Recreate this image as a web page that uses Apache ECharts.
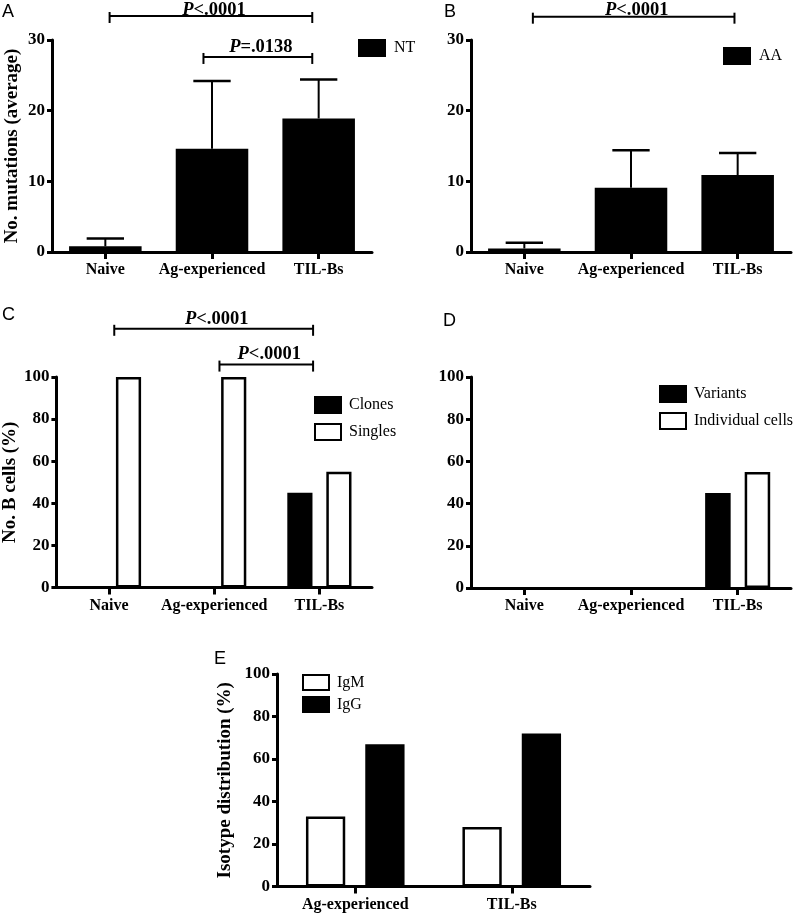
<!DOCTYPE html>
<html><head><meta charset="utf-8">
<script src="https://cdn.jsdelivr.net/npm/echarts@6/dist/echarts.min.js"></script>
<style>html,body{margin:0;padding:0;background:#fff}#c{width:797px;height:914px}</style>
</head><body><div id="c"></div>
<script>
// ---- data ----
const catsThree = ['Naive', 'Ag-experienced', 'TIL-Bs'];
const catsTwo = ['Ag-experienced', 'TIL-Bs'];
const ntMean = [0.8, 14.6, 18.9];
const ntUpper = [1.9, 24.2, 24.4];
const aaMean = [0.5, 9.1, 10.9];
const aaUpper = [1.3, 14.4, 14.0];
const clones = [0, 0, 45];
const singles = [100, 100, 55];
const variants = [0, 0, 45];
const individualCells = [0, 0, 55];
const igM = [33, 28];
const igG = [67, 72];
const mutationTicks = [0, 10, 20, 30];
const percentTicks = [0, 20, 40, 60, 80, 100];
// brackets: [from (category units), to (category units), y value, label]
const bracketsA = [[0.04, 1.94, 33.4, 'P<.0001'], [0.92, 1.94, 27.6, 'P=.0138']];
const bracketsB = [[0.08, 1.97, 33.3, 'P<.0001']];
const bracketsC = [[0.05, 1.94, 122.9, 'P<.0001'], [1.05, 1.94, 105.9, 'P<.0001']];

// ---- styling helpers ----
const SERIF = 'Liberation Serif';
const grids = [
  {left: 52, top: 40, width: 320, height: 212},
  {left: 471, top: 40, width: 320, height: 212},
  {left: 52, top: 377, width: 320, height: 210.5},
  {left: 471, top: 377, width: 320, height: 211},
  {left: 277, top: 674, width: 313, height: 212.5}
];
function xAx(gi, data) {
  return {
    type: 'category', gridIndex: gi, data: data,
    axisLine: {show: true, lineStyle: {color: '#000', width: 3}},
    axisTick: {show: true, alignWithLabel: true, length: 7, lineStyle: {color: '#000', width: 3}},
    axisLabel: {interval: 0, color: '#000', fontFamily: SERIF, fontWeight: 'bold', fontSize: 16, margin: 10},
    splitLine: {show: false}
  };
}
function yAx(gi, ticks, name, gap) {
  return {
    type: 'value', gridIndex: gi, min: ticks[0], max: ticks[ticks.length - 1],
    interval: ticks[1] - ticks[0],
    name: name, nameLocation: 'middle', nameRotate: 90, nameGap: gap,
    nameTextStyle: {color: '#000', fontFamily: SERIF, fontWeight: 'bold', fontSize: 19},
    axisLine: {show: true, lineStyle: {color: '#000', width: 3}},
    axisTick: {show: true, length: 5, lineStyle: {color: '#000', width: 3}},
    axisLabel: {color: '#000', fontFamily: SERIF, fontWeight: 'bold', fontSize: 17, margin: 7},
    splitLine: {show: false}
  };
}
function errRender(means, uppers) {
  return function (params, api) {
    const i = params.dataIndex;
    const top = api.coord([i, uppers[i]]);
    const base = api.coord([i, means[i]]);
    const half = api.size([1, 0])[0] * 0.175;
    return {type: 'group', children: [
      {type: 'line', shape: {x1: top[0], y1: base[1], x2: top[0], y2: top[1]}, style: {stroke: '#000', lineWidth: 2}},
      {type: 'line', shape: {x1: top[0] - half, y1: top[1], x2: top[0] + half, y2: top[1]}, style: {stroke: '#000', lineWidth: 2.5}}
    ]};
  };
}
function bracketRender(list) {
  return function (params, api) {
    const b = list[params.dataIndex];
    const band = api.size([1, 0])[0];
    const c0 = api.coord([0, b[2]]);
    const x1 = c0[0] + b[0] * band, x2 = c0[0] + b[1] * band, y = c0[1];
    const rest = b[3].slice(1);
    const ty = Math.max(y - 10, 10); // keep label inside the canvas
    return {type: 'group', children: [
      {type: 'line', shape: {x1: x1, y1: y, x2: x2, y2: y}, style: {stroke: '#000', lineWidth: 2}},
      {type: 'line', shape: {x1: x1, y1: y - 4, x2: x1, y2: y + 7}, style: {stroke: '#000', lineWidth: 2}},
      {type: 'line', shape: {x1: x2, y1: y - 4, x2: x2, y2: y + 7}, style: {stroke: '#000', lineWidth: 2}},
      {type: 'text', style: {
        text: '{i|P}{n|' + rest + '}', x: (x1 + x2) / 2 + 3, y: ty, align: 'center', verticalAlign: 'middle', fill: '#000',
        rich: {
          i: {fontStyle: 'italic', fontWeight: 'bold', fontSize: 18.5, fontFamily: SERIF, fill: '#000'},
          n: {fontWeight: 'bold', fontSize: 18.5, fontFamily: SERIF, fill: '#000'}
        }
      }}
    ]};
  };
}
function bracketSeries(gi, list) {
  return {type: 'custom', xAxisIndex: gi, yAxisIndex: gi, clip: false, silent: true,
    renderItem: bracketRender(list), data: list.map((b, i) => [i, b[2]]), z: 10};
}
function errSeries(gi, means, uppers) {
  return {type: 'custom', xAxisIndex: gi, yAxisIndex: gi, clip: false, silent: true,
    renderItem: errRender(means, uppers), encode: {x: 0, y: [1, 2]},
    data: means.map((m, i) => [i, m, uppers[i]]), z: 5};
}
// zero-height bars get no outline so they leave no stub on the axis
function barData(values) {
  return values.map(v => v === 0 ? {value: v, itemStyle: {borderWidth: 0}} : v);
}
const blackFill = {color: '#000'};
const blackBordered = {color: '#000', borderColor: '#000', borderWidth: 2.5};
const whiteBordered = {color: '#fff', borderColor: '#000', borderWidth: 2.5};
function legend(names, left, top, gap, w, h) {
  return {data: names, left: left, top: top, orient: 'vertical', icon: 'rect',
    itemWidth: w, itemHeight: h, itemGap: gap, padding: 0, selectedMode: false,
    textStyle: {color: '#000', fontFamily: SERIF, fontSize: 16, padding: [0, 0, 0, 3]}};
}
function letter(t, left, top) {
  return {text: t, left: left, top: top, padding: 0,
    textStyle: {color: '#000', fontFamily: 'Liberation Sans', fontWeight: 'normal', fontSize: 18}};
}

const option = {
  animation: false,
  backgroundColor: '#fff',
  title: [letter('A', 2, 3), letter('B', 444, 3), letter('C', 2, 306), letter('D', 443, 312), letter('E', 214, 650)],
  grid: grids,
  legend: [
    legend(['NT'], 358, 39, 8, 28, 18),
    legend(['AA'], 723, 47, 8, 28, 18),
    legend(['Clones', 'Singles'], 314, 396, 9, 26, 16),
    legend(['Variants', 'Individual cells'], 659, 385, 9, 26, 16),
    legend(['IgM', 'IgG'], 302, 674, 5, 26, 15)
  ],
  xAxis: [xAx(0, catsThree), xAx(1, catsThree), xAx(2, catsThree), xAx(3, catsThree), xAx(4, catsTwo)],
  yAxis: [
    yAx(0, mutationTicks, 'No. mutations (average)', 30),
    yAx(1, mutationTicks, '', 30),
    yAx(2, percentTicks, 'No. B cells (%)', 31),
    yAx(3, percentTicks, '', 30),
    yAx(4, percentTicks, 'Isotype distribution (%)', 42)
  ],
  series: [
    {name: 'NT', type: 'bar', xAxisIndex: 0, yAxisIndex: 0, data: ntMean, itemStyle: blackFill, barCategoryGap: '32%'},
    errSeries(0, ntMean, ntUpper),
    bracketSeries(0, bracketsA),
    {name: 'AA', type: 'bar', xAxisIndex: 1, yAxisIndex: 1, data: aaMean, itemStyle: blackFill, barCategoryGap: '32%'},
    errSeries(1, aaMean, aaUpper),
    bracketSeries(1, bracketsB),
    {name: 'Clones', type: 'bar', xAxisIndex: 2, yAxisIndex: 2, data: barData(clones), itemStyle: blackBordered, barGap: '55%', barCategoryGap: '39%'},
    {name: 'Singles', type: 'bar', xAxisIndex: 2, yAxisIndex: 2, data: barData(singles), itemStyle: whiteBordered, barGap: '55%', barCategoryGap: '39%'},
    bracketSeries(2, bracketsC),
    {name: 'Variants', type: 'bar', xAxisIndex: 3, yAxisIndex: 3, data: barData(variants), itemStyle: blackBordered, barGap: '55%', barCategoryGap: '39%'},
    {name: 'Individual cells', type: 'bar', xAxisIndex: 3, yAxisIndex: 3, data: barData(individualCells), itemStyle: whiteBordered, barGap: '55%', barCategoryGap: '39%'},
    {name: 'IgM', type: 'bar', xAxisIndex: 4, yAxisIndex: 4, data: barData(igM), itemStyle: whiteBordered, barGap: '51%', barCategoryGap: '37%'},
    {name: 'IgG', type: 'bar', xAxisIndex: 4, yAxisIndex: 4, data: barData(igG), itemStyle: blackBordered, barGap: '51%', barCategoryGap: '37%'}
  ]
};
const chart = echarts.init(document.getElementById('c'), null, {renderer: 'canvas'});
chart.setOption(option);
</script>
</body></html>
